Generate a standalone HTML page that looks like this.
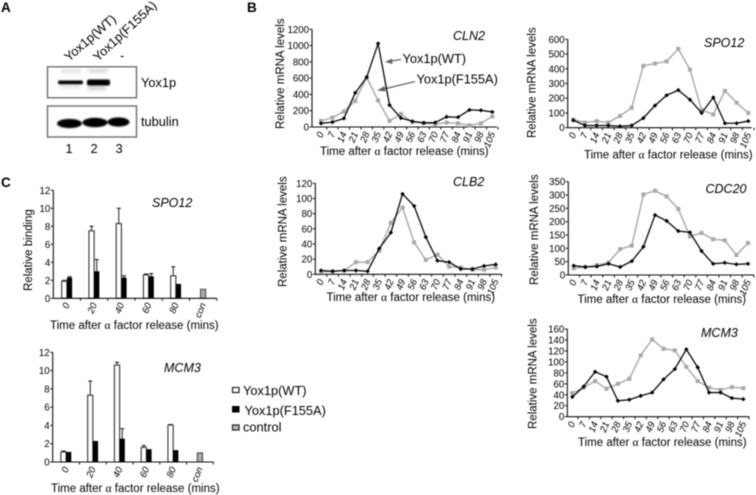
<!DOCTYPE html>
<html lang="en">
<head>
<meta charset="utf-8">
<title>Yox1p figure</title>
<style>
html,body{margin:0;padding:0;background:#fff;width:756px;height:495px;overflow:hidden}
svg{display:block;filter:blur(0.4px)}
text{font-family:"Liberation Sans",sans-serif;fill:#000}
.tick{font-size:9.7px}
.xt{font-size:9.5px;font-style:italic}
.ttl{font-size:11.5px}
.gene{font-size:12.5px;font-style:italic}
.lab{font-size:12.8px}
.pan{font-size:13.5px;font-weight:bold;fill:#000}
.al{font-family:"Liberation Serif",serif}
</style>
</head>
<body>
<svg id="fig" xmlns="http://www.w3.org/2000/svg" width="756" height="495" viewBox="0 0 756 495">
<defs>
<filter id="b1" x="-30%" y="-100%" width="160%" height="300%"><feGaussianBlur stdDeviation="0.7"/></filter>
<filter id="b2" x="-30%" y="-100%" width="160%" height="300%"><feGaussianBlur stdDeviation="1.5"/></filter>
</defs>
<rect width="756" height="495" fill="#fff"/>

<text class="pan" x="1" y="12">A</text>
<text class="pan" x="247" y="12">B</text>
<text class="pan" x="1" y="187">C</text>

<g>
<text class="lab" transform="translate(69,62) rotate(-41)">Yox1p(WT)</text>
<text class="lab" transform="translate(98,62) rotate(-43)">Yox1p(F155A)</text>
<text class="lab" x="120" y="60">-</text>
<rect x="47.5" y="66.8" width="89" height="31" fill="#fff" stroke="#777" stroke-width="1.5"/>
<rect x="47.5" y="106" width="89" height="31" fill="#fff" stroke="#777" stroke-width="1.5"/>
<g filter="url(#b2)">
<rect x="61" y="70" width="20" height="2" fill="#ccc"/>
<rect x="88" y="70" width="20" height="2" fill="#bbb"/>
<rect x="60" y="85" width="20" height="3" fill="#ddd"/>
<rect x="88" y="86" width="18" height="4" fill="#ccc"/>
</g>
<g filter="url(#b1)">
<rect x="58" y="80.5" width="25" height="3.8" rx="1.5" fill="#000"/>
<rect x="87" y="79.5" width="23" height="6" rx="2" fill="#000"/>
</g>
<g filter="url(#b1)">
<ellipse cx="69.5" cy="123.5" rx="12.5" ry="4.6" fill="#000"/>
<ellipse cx="95" cy="122.5" rx="12.5" ry="4.8" fill="#000"/>
<ellipse cx="118.5" cy="122" rx="11" ry="4.6" fill="#000"/>
</g>
<text class="lab" x="141" y="87">Yox1p</text>
<text class="lab" x="141" y="126">tubulin</text>
<text class="lab" x="69" y="153" text-anchor="middle">1</text>
<text class="lab" x="94" y="153" text-anchor="middle">2</text>
<text class="lab" x="119" y="153" text-anchor="middle">3</text>
</g>

<!-- Static chart titles -->
<text class="gene" x="453" y="40">CLN2</text>
<text class="gene" x="704" y="47">SPO12</text>
<text class="gene" x="453" y="186">CLB2</text>
<text class="gene" x="705.5" y="193">CDC20</text>
<text class="gene" x="701" y="337">MCM3</text>
<text class="gene" x="152" y="207">SPO12</text>
<text class="gene" x="164" y="372">MCM3</text>

<text class="ttl" transform="translate(284,129) rotate(-90)">Relative mRNA levels</text>
<text class="ttl" transform="translate(535.5,138) rotate(-90)">Relative mRNA levels</text>
<text class="ttl" transform="translate(286.5,287) rotate(-90)">Relative mRNA levels</text>
<text class="ttl" transform="translate(538,285) rotate(-90)">Relative mRNA levels</text>
<text class="ttl" transform="translate(536.5,429) rotate(-90)">Relative mRNA levels</text>
<text class="ttl" transform="translate(32,291) rotate(-90)">Relative binding</text>

<text class="ttl" x="320" y="155">Time after <tspan class="al">α</tspan> factor release (mins)</text>
<text class="ttl" x="584" y="158.5">Time after <tspan class="al">α</tspan> factor release (mins)</text>
<text class="ttl" x="326.5" y="301">Time after <tspan class="al">α</tspan> factor release (mins)</text>
<text class="ttl" x="577.5" y="303">Time after <tspan class="al">α</tspan> factor release (mins)</text>
<text class="ttl" x="578" y="446">Time after <tspan class="al">α</tspan> factor release (mins)</text>
<text class="ttl" x="50" y="329">Time after <tspan class="al">α</tspan> factor release (mins)</text>
<text class="ttl" x="51" y="492">Time after <tspan class="al">α</tspan> factor release (mins)</text>

<g>
<text class="lab" x="402.5" y="63">Yox1p(WT)</text>
<text class="lab" x="416.5" y="83.5">Yox1p(F155A)</text>
<line x1="401" y1="59.5" x2="388" y2="61.5" stroke="#666" stroke-width="1.2"/>
<polygon points="385,62 392,58.5 392.5,64" fill="#666"/>
<line x1="415" y1="81.5" x2="382" y2="89.5" stroke="#666" stroke-width="1.2"/>
<polygon points="377,90.5 384.5,86 385.5,91.5" fill="#666"/>
</g>

<g>
<rect x="232.5" y="387.5" width="6.5" height="5" fill="#fff" stroke="#222" stroke-width="1.2"/>
<text class="lab" x="243" y="395">Yox1p(WT)</text>
<rect x="232" y="406" width="7.5" height="6.5" fill="#000"/>
<text class="lab" x="244.5" y="415">Yox1p(F155A)</text>
<rect x="232.5" y="425" width="6.5" height="5" fill="#bbb" stroke="#222" stroke-width="1.2"/>
<text class="lab" x="243" y="431.5">control</text>
</g>

<g id="charts"></g>
</svg>

<script>
// ---- Line chart data ----
const timePoints = [0,7,14,21,28,35,42,49,56,63,70,77,84,91,98,105];

const cln2Ticks = [0,200,400,600,800,1000,1200];
const cln2Wt = [45,60,105,420,610,1025,270,110,70,50,55,125,120,210,205,185];
const cln2F155a = [75,115,190,320,610,325,75,160,60,50,35,55,45,20,45,130];

const spo12Ticks = [0,100,200,300,400,500,600];
const spo12Wt = [50,15,15,15,10,15,65,150,220,255,190,100,205,30,30,45];
const spo12F155a = [55,35,45,35,80,135,420,435,450,535,395,120,90,250,170,100];

const clb2Ticks = [0,20,40,60,80,100,120];
const clb2Wt = [5,4,5,5,4,34,55,106,90,49,18,16,7,7,11,13];
const clb2F155a = [3,4,5,16,16,31,68,88,42,19,26,10,9,6,6,9];

const cdc20Ticks = [0,50,100,150,200,250,300,350];
const cdc20Wt = [35,30,32,42,30,52,106,225,203,165,160,90,42,46,40,42];
const cdc20F155a = [25,30,37,47,97,110,302,316,295,248,145,158,134,130,75,120];

const mcm3Ticks = [0,20,40,60,80,100,120,140,160];
const mcm3Wt = [36,55,82,73,29,31,38,44,68,87,123,90,44,44,34,32];
const mcm3F155a = [43,53,65,51,60,69,112,141,124,121,91,65,53,49,54,52];

// ---- Bar chart data ----
const bindingCats = ['0','20','40','60','80','con'];
const bindingTicks = [0,2,4,6,8,10,12];

const spo12BindWt = [1.9,7.5,8.3,2.6,2.5];
const spo12BindWtErr = [0.1,0.5,1.7,0.1,1.0];
const spo12BindF155a = [2.3,3.0,2.3,2.45,1.6];
const spo12BindF155aErr = [0.1,1.3,0.2,0.3,0];
const spo12BindControl = 1.0;

const mcm3BindWt = [1.1,7.3,10.6,1.6,4.05];
const mcm3BindWtErr = [0.1,1.55,0.3,0.2,0.05];
const mcm3BindF155a = [1.1,2.3,2.55,1.4,1.3];
const mcm3BindF155aErr = [0,0,1.1,0,0];
const mcm3BindControl = 1.0;

const NS = 'http://www.w3.org/2000/svg';
const root = document.getElementById('charts');

function mk(tag, attrs, parent, txt) {
  const el = document.createElementNS(NS, tag);
  for (const k in attrs) el.setAttribute(k, attrs[k]);
  if (txt !== undefined) el.textContent = txt;
  parent.appendChild(el);
  return el;
}

function drawAxes(g, name, box, ticks, cats, yScale, catX, step) {
  const axisColor = '#111';
  const yAxis = mk('line', {x1: box.axisX, x2: box.axisX, y1: box.y0, y2: box.yTop, stroke: axisColor, 'stroke-width': 1.1}, g);
  
  
  const xAxis = mk('line', {x1: box.axisX, x2: box.right, y1: box.y0, y2: box.y0, stroke: axisColor, 'stroke-width': 1.1}, g);
  
  
  ticks.forEach(function (t) {
    const y = yScale(t);
    const tk = mk('line', {x1: box.axisX - 2.5, x2: box.axisX, y1: y, y2: y, stroke: axisColor, 'stroke-width': 1}, g);
    
    
    const lb = mk('text', {x: box.axisX - 3, y: y + 3.5, 'text-anchor': 'end', class: 'tick'}, g, String(t));
    
    
  });
  cats.forEach(function (c, i) {
    const cx = catX(i);
    const tx = cx + step / 2;
    const tk = mk('line', {x1: tx, x2: tx, y1: box.y0, y2: box.y0 + 2.5, stroke: axisColor, 'stroke-width': 1}, g);
    
    
    const lb = mk('text', {transform: 'translate(' + (cx + 3) + ',' + (box.y0 + box.labelGap) + ') rotate(-68)', 'text-anchor': 'end', class: 'xt'}, g, String(c));
    
    
  });
}

function lineChart(name, box, ticks, wt, f155a) {
  const g = mk('g', {}, root);
  
  
  const maxV = ticks[ticks.length - 1];
  const step = (box.last - box.first) / (timePoints.length - 1);
  const xS = function (i) { return box.first + i * step; };
  const yS = function (v) { return box.y0 - v / maxV * (box.y0 - box.yTop); };
  drawAxes(g, name, box, ticks, timePoints, yS, xS, step);

  const pts = function (arr) { return arr.map(function (v, i) { return xS(i).toFixed(2) + ',' + yS(v).toFixed(2); }).join(' '); };

  const gl = mk('polyline', {points: pts(f155a), fill: 'none', stroke: '#a8a8a8', 'stroke-width': 1.4}, g);
  
  
  f155a.forEach(function (v, i) {
    const m = mk('rect', {x: xS(i) - 2, y: yS(v) - 2, width: 4, height: 4, fill: '#a8a8a8'}, g);
    
    
  });

  const bl = mk('polyline', {points: pts(wt), fill: 'none', stroke: '#0a0a0a', 'stroke-width': 1.3}, g);
  
  
  wt.forEach(function (v, i) {
    const cx = xS(i), cy = yS(v);
    const m = mk('polygon', {points: (cx - 2.2) + ',' + cy + ' ' + cx + ',' + (cy - 2.2) + ' ' + (cx + 2.2) + ',' + cy + ' ' + cx + ',' + (cy + 2.2), fill: '#000'}, g);
    
    
  });
}

function barChart(name, box, ticks, wt, wtErr, f155a, f155aErr, control) {
  const g = mk('g', {}, root);
  
  
  const maxV = ticks[ticks.length - 1];
  const step = (box.right - box.axisX) / bindingCats.length;
  const xS = function (i) { return box.axisX + step * (i + 0.5); };
  const yS = function (v) { return box.y0 - v / maxV * (box.y0 - box.yTop); };
  const w = 5.2;

  function errBar(cx, top, err, kind) {
    if (err <= 0) return;
    const l = mk('line', {x1: cx, x2: cx, y1: yS(top), y2: yS(top + err), stroke: '#333', 'stroke-width': 1.1}, g);
    
    
    const c = mk('line', {x1: cx - 2, x2: cx + 2, y1: yS(top + err), y2: yS(top + err), stroke: '#222', 'stroke-width': 1.1}, g);
    
    
  }

  wt.forEach(function (v, i) {
    const cx = xS(i);
    errBar(cx - w / 2, v, wtErr[i], 'wt');
    errBar(cx + w / 2, f155a[i], f155aErr[i], 'f155a');
    const a = mk('rect', {x: cx - w, y: yS(v), width: w, height: box.y0 - yS(v), fill: '#fff', stroke: '#333', 'stroke-width': 1.1}, g);
    
    
    const b = mk('rect', {x: cx, y: yS(f155a[i]), width: w, height: box.y0 - yS(f155a[i]), fill: '#000'}, g);
    
    
  });
  const cx = xS(wt.length);
  const cb = mk('rect', {x: cx - w / 2, y: yS(control), width: w, height: box.y0 - yS(control), fill: '#aaa', stroke: '#444', 'stroke-width': 1}, g);
  
  

  drawAxes(g, name, box, ticks, bindingCats, yS, xS, step);
}

lineChart('cln2', {axisX: 312, right: 497, first: 321, last: 492.3, y0: 127, yTop: 29.3, labelGap: 6.5}, cln2Ticks, cln2Wt, cln2F155a);
lineChart('spo12', {axisX: 567.7, right: 751.7, first: 573.3, last: 748.3, y0: 127.7, yTop: 39.3, labelGap: 6.5}, spo12Ticks, spo12Wt, spo12F155a);
lineChart('clb2', {axisX: 315.3, right: 501.7, first: 321, last: 495.7, y0: 274.3, yTop: 183.3, labelGap: 6.5}, clb2Ticks, clb2Wt, clb2F155a);
lineChart('cdc20', {axisX: 568.3, right: 754, first: 573.7, last: 748, y0: 275, yTop: 181.7, labelGap: 6.5}, cdc20Ticks, cdc20Wt, cdc20F155a);
lineChart('mcm3', {axisX: 567.3, right: 749.3, first: 572.3, last: 743.3, y0: 416.7, yTop: 329, labelGap: 6.5}, mcm3Ticks, mcm3Wt, mcm3F155a);
barChart('spo12-binding', {axisX: 53.3, right: 216.7, y0: 298.3, yTop: 190.3, labelGap: 6}, bindingTicks, spo12BindWt, spo12BindWtErr, spo12BindF155a, spo12BindF155aErr, spo12BindControl);
barChart('mcm3-binding', {axisX: 52.7, right: 213.3, y0: 462, yTop: 352.3, labelGap: 6.5}, bindingTicks, mcm3BindWt, mcm3BindWtErr, mcm3BindF155a, mcm3BindF155aErr, mcm3BindControl);
</script>
</body>
</html>
